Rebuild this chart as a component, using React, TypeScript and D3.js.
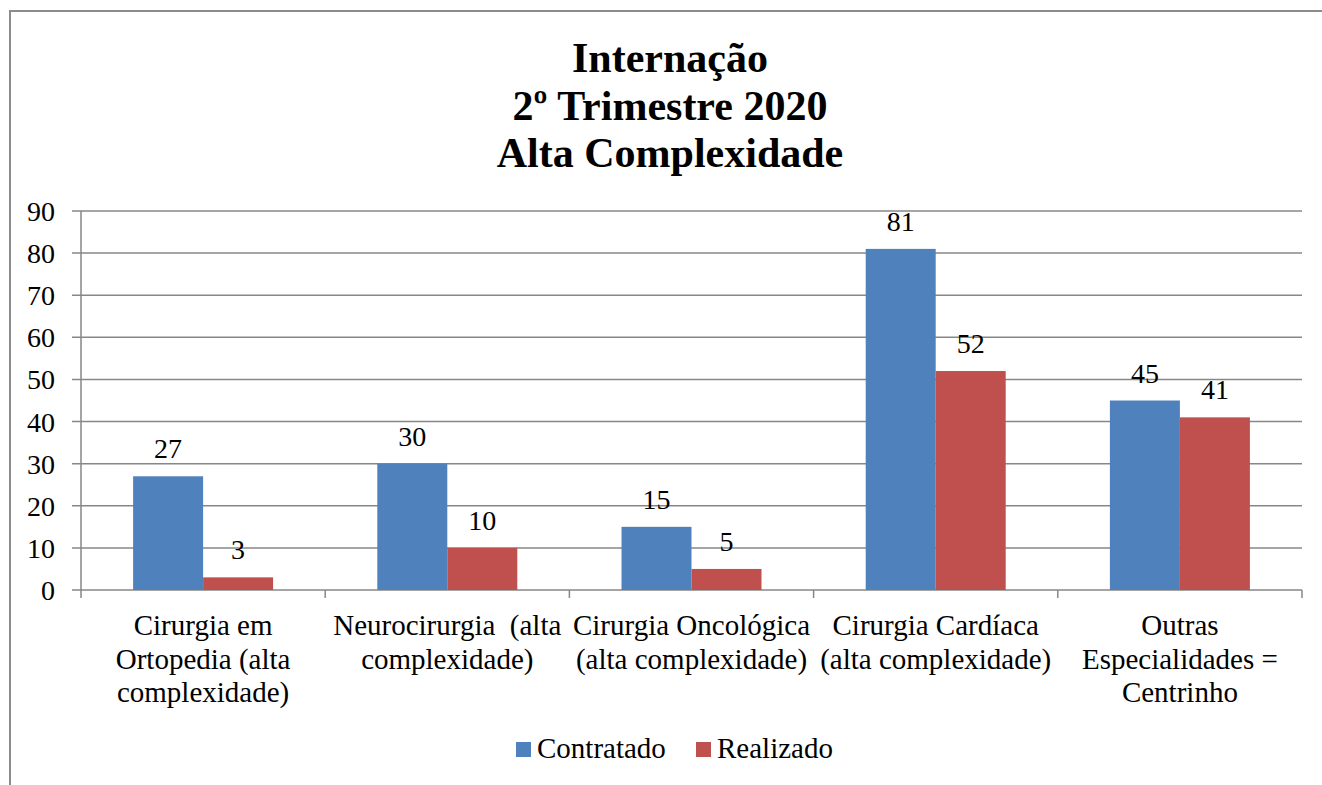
import * as d3 from "d3";

const W = 1322;
const H = 785;

const TITLE_LINES = ["Internação", "2º Trimestre 2020", "Alta Complexidade"];

const CATEGORIES = [
  "Cirurgia em Ortopedia (alta complexidade)",
  "Neurocirurgia (alta complexidade)",
  "Cirurgia Oncológica (alta complexidade)",
  "Cirurgia Cardíaca (alta complexidade)",
  "Outras Especialidades = Centrinho",
];

// wrapped the way the original shows them
const CATEGORY_LINES = [
  ["Cirurgia em", "Ortopedia (alta", "complexidade)"],
  ["Neurocirurgia\u00a0 (alta", "complexidade)"],
  ["Cirurgia Oncológica", "(alta complexidade)"],
  ["Cirurgia Cardíaca", "(alta complexidade)"],
  ["Outras", "Especialidades =", "Centrinho"],
];

const SERIES = ["Contratado", "Realizado"];
const COLORS = ["#4F81BD", "#C0504D"];

const CONTRATADO = [27, 30, 15, 81, 45];
const REALIZADO = [3, 10, 5, 52, 41];

const Y_TICKS = [0, 10, 20, 30, 40, 50, 60, 70, 80, 90];

const FONT = "'Liberation Serif', 'Times New Roman', Tinos, serif";
const GRID = "#878787";

export default function App() {
  const left = 81;
  const right = 1302;
  const top = 211;
  const bottom = 590;

  const y = d3.scaleLinear().domain([0, 90]).range([bottom, top]);
  const x = d3.scaleBand<string>().domain(CATEGORIES).range([left, right]);
  const groupW = 140;
  const inner = d3.scaleBand<string>().domain(SERIES).range([0, groupW]);

  const values = [CONTRATADO, REALIZADO];

  return (
    <svg
      width={W}
      height={H}
      style={{ position: "absolute", left: 0, top: 0, background: "#fff" }}
    >
      <style>{`svg text { font-family: ${FONT}; }`}</style>

      {/* chart frame (cut off at right and bottom) */}
      <line x1={10} y1={11} x2={W} y2={11} stroke="#8c8c8c" strokeWidth={2} />
      <line x1={10} y1={10} x2={10} y2={H} stroke="#8c8c8c" strokeWidth={2} />

      {/* title */}
      {TITLE_LINES.map((t, i) => (
        <text
          key={i}
          x={670}
          y={72 + i * 47.5}
          textAnchor="middle"
          fontWeight="bold"
          fontSize={42}
          fill="#000"
        >
          {t}
        </text>
      ))}

      {/* gridlines + y ticks */}
      {Y_TICKS.map((t) => (
        <g key={t}>
          <line x1={left - 9} x2={right} y1={y(t)} y2={y(t)} stroke={GRID} strokeWidth={1.5} />
          <text x={55} y={y(t) + 10} textAnchor="end" fontSize={28} fill="#000">
            {t}
          </text>
        </g>
      ))}

      {/* y axis */}
      <line x1={left} x2={left} y1={top} y2={bottom + 8} stroke={GRID} strokeWidth={1.5} />

      {/* category ticks */}
      {CATEGORIES.map((c) => (
        <line
          key={c}
          x1={(x(c) ?? 0) + x.bandwidth()}
          x2={(x(c) ?? 0) + x.bandwidth()}
          y1={bottom}
          y2={bottom + 8}
          stroke={GRID}
          strokeWidth={1.5}
        />
      ))}

      {/* bars */}
      {CATEGORIES.map((c, ci) => {
        const cx = (x(c) ?? 0) + x.bandwidth() / 2 - groupW / 2;
        return (
          <g key={c}>
            {SERIES.map((s, si) => {
              const v = values[si][ci];
              const bx = cx + (inner(s) ?? 0);
              return (
                <g key={s}>
                  <rect
                    x={bx}
                    y={y(v)}
                    width={inner.bandwidth()}
                    height={bottom - y(v)}
                    fill={COLORS[si]}
                  />
                  <text
                    x={bx + inner.bandwidth() / 2}
                    y={y(v) - 18}
                    textAnchor="middle"
                    fontSize={28}
                    fill="#000"
                  >
                    {v}
                  </text>
                </g>
              );
            })}
          </g>
        );
      })}

      {/* category labels */}
      {CATEGORIES.map((c, ci) =>
        CATEGORY_LINES[ci].map((l, li) => (
          <text
            key={c + li}
            x={(x(c) ?? 0) + x.bandwidth() / 2}
            y={bottom + 45 + li * 33.5}
            textAnchor="middle"
            fontSize={29}
            fill="#000"
          >
            {l}
          </text>
        ))
      )}

      {/* legend */}
      {SERIES.map((s, i) => {
        const lx = [516, 696][i];
        return (
          <g key={s}>
            <rect x={lx} y={742} width={15} height={15} fill={COLORS[i]} />
            <text x={lx + 21} y={758} fontSize={29} fill="#000">
              {s}
            </text>
          </g>
        );
      })}
    </svg>
  );
}
